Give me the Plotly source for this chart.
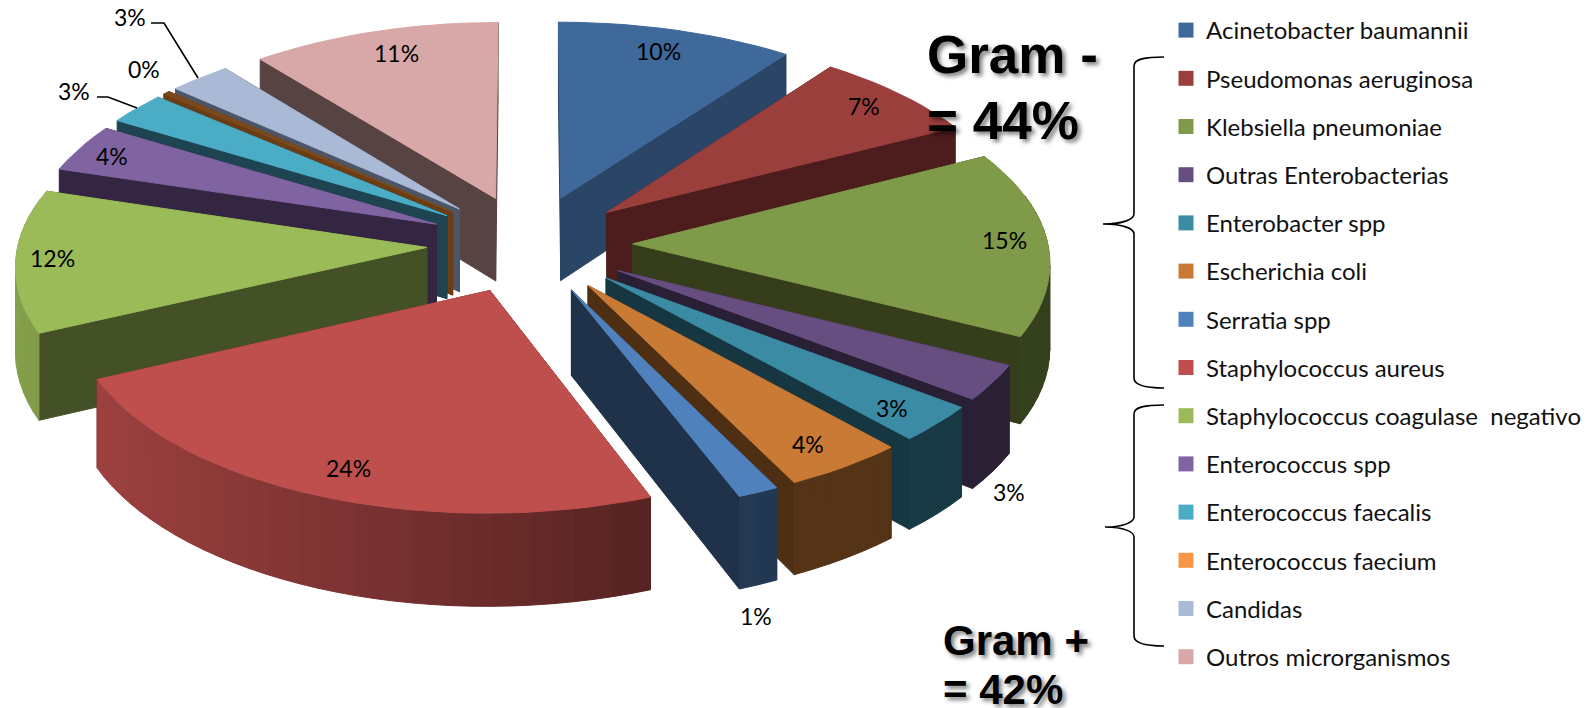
import math
import plotly.graph_objects as go

CATEGORIES = ["Acinetobacter baumannii", "Pseudomonas aeruginosa", "Klebsiella pneumoniae",
              "Outras Enterobacterias", "Enterobacter spp", "Escherichia coli", "Serratia spp",
              "Staphylococcus aureus", "Staphylococcus coagulase  negativo", "Enterococcus spp",
              "Enterococcus faecalis", "Enterococcus faecium", "Candidas", "Outros microrganismos"]
VALUES = [10.1, 7.3, 15.1, 2.9, 3.0, 4.3, 1.45, 23.95, 11.6, 3.9, 2.6, 0.3, 2.7, 10.8]
LEGEND_COLORS = ["#3f689b", "#9b3f3d", "#7f9a48", "#674e80", "#3a8ba3", "#c97a35", "#4f81bd",
                 "#be4f4d", "#9bbb59", "#8064a2", "#4bacc6", "#f79646", "#a9b9d6", "#d8a7a7"]
TOP_COLORS = ["#3f689b", "#9b3f3d", "#7f9a48", "#674e80", "#3a8ba3", "#c97a35", "#4f81bd",
              "#be4f4d", "#9bbb59", "#8064a2", "#4bacc6", "#7a4a1c", "#a9b9d6", "#d8a7a7"]
WALL_COLORS = ["#2b4566", "#4d1c1c", "#363d1a", "#2a2036", "#163742", "#4f2f14", "#1f3249",
               "#5c2322", "#445126", "#342542", "#1e4452", "#6b3d14", "#4c5668", "#574342"]
LABEL_X = [658, 864, 1004, 1009, 892, 808, 756, 348, 52, 112, 74, 144, 130, 396]
LABEL_Y = [51, 106, 240, 492, 408, 444, 616, 468, 258, 156, 91, 69, 17, 53]
LEGEND_FONT = "Lato"

CX, CY, R, C, K, E, H = 529, 244, 415, 197, 0.08, 0.25, 84
LEFT_SCALE = 0.985
PAGE = 8  # the page's own margin round the figure


def project(X, Y, z=0.0):
    w = 1 + K * Y
    s = LEFT_SCALE if X < 0 else 1.0
    return CX + s * R * X / w, CY - C * Y / w + H * z / w


def shade(hex_color, f):
    r, g, b = [int(hex_color[i:i + 2], 16) for i in (1, 3, 5)]
    return f"rgb({int(r * f)},{int(g * f)},{int(b * f)})"


fig = go.Figure()


def poly(points, color):
    xs, ys = zip(*points)
    fig.add_trace(go.Scatter(x=list(xs) + [xs[0]], y=list(ys) + [ys[0]], mode="lines", fill="toself",
                             fillcolor=color, line=dict(color=color, width=1),
                             hoverinfo="skip", showlegend=False))


total = sum(VALUES)
slices = []
cum = 0.0
for i, v in enumerate(VALUES):
    a0 = cum / total * 360
    cum += v
    a1 = cum / total * 360
    slices.append((i, a0, a1))
slices.sort(key=lambda s: -math.cos(math.radians((s[1] + s[2]) / 2)))

for i, a0, a1 in slices:
    mid = math.radians((a0 + a1) / 2)
    ox, oy = E * math.sin(mid), E * math.cos(mid)
    n = max(2, int((a1 - a0) / 2.5))
    angs = [math.radians(a0 + (a1 - a0) * t / n) for t in range(n + 1)]
    arc = [(ox + math.sin(a), oy + math.cos(a)) for a in angs]
    radial = []
    for a in (angs[0], angs[-1]):
        X, Y = ox + math.sin(a), oy + math.cos(a)
        radial.append(((oy + Y) / 2, [project(ox, oy), project(X, Y), project(X, Y, 1), project(ox, oy, 1)]))
    for _, pts in sorted(radial, key=lambda r: -r[0]):
        poly(pts, WALL_COLORS[i])
    for j in range(n):
        am = (angs[j] + angs[j + 1]) / 2
        if math.cos(am) > 0.25:
            continue
        f = max(0.42, min(0.86, 0.561 - 0.2975 * math.sin(am)))
        (x0, y0), (x1, y1) = arc[j], arc[j + 1]
        poly([project(x0, y0), project(x1, y1), project(x1, y1, 1), project(x0, y0, 1)], shade(TOP_COLORS[i], f))
    poly([project(ox, oy)] + [project(x, y) for x, y in arc], TOP_COLORS[i])

for name, color in zip(CATEGORIES, LEGEND_COLORS):
    fig.add_trace(go.Scatter(x=[None], y=[None], mode="markers", name=name, legendgroup=name,
                             marker=dict(symbol="square", size=15, color=color), hoverinfo="skip"))

for v, x, y in zip(VALUES, LABEL_X, LABEL_Y):
    fig.add_annotation(x=x, y=y, text=f"{round(v)}%", showarrow=False,
                       font=dict(family=LEGEND_FONT, size=23, color="#000"))

GRAM = [("Gram -", 925, 54, 53), ("= 44%", 925, 120, 53),
        ("Gram +", 941, 640, 42), ("= 42%", 941, 689, 42)]
for text, x, y, size in GRAM:
    fig.add_annotation(x=x, y=y, text=text, showarrow=False, xanchor="left",
                       font=dict(family="Liberation Sans", size=size, color="#000", weight="bold",
                                 shadow="3px 3px 4px rgba(0,0,0,0.5)"))

shapes = [
    "M 151 23 L 164 23 L 198 78",
    "M 97 97 L 108 97 L 137 108",
    "M 1164 57 C 1145 57 1134 59 1134 66 L 1134 214 C 1134 219 1124 224 1103 224 "
    "C 1124 224 1134 229 1134 234 L 1134 378 C 1134 385 1145 388 1164 388",
    "M 1164 405 C 1145 405 1134 407 1134 414 L 1134 517 C 1134 522 1124 527 1105 527 "
    "C 1124 527 1134 532 1134 537 L 1134 636 C 1134 643 1145 646 1164 646",
]
for p in shapes:
    fig.add_shape(type="path", path=p, line=dict(color="#000", width=1.6), xref="x", yref="y")

fig.update_layout(
    width=1595 - PAGE, height=708 - PAGE, margin=dict(l=0, r=0, t=0, b=0),
    paper_bgcolor="#fff", plot_bgcolor="#fff",
    xaxis=dict(range=[PAGE, 1595], visible=False, fixedrange=True),
    yaxis=dict(range=[708, PAGE], visible=False, fixedrange=True),
    font=dict(family=LEGEND_FONT),
    legend=dict(x=(1166 - PAGE) / (1595 - PAGE), y=1, xanchor="left", yanchor="top",
                font=dict(family=LEGEND_FONT, size=24, color="#111"),
                tracegroupgap=14, bgcolor="rgba(0,0,0,0)", itemclick=False, itemdoubleclick=False),
)
fig.write_html("out.html")
